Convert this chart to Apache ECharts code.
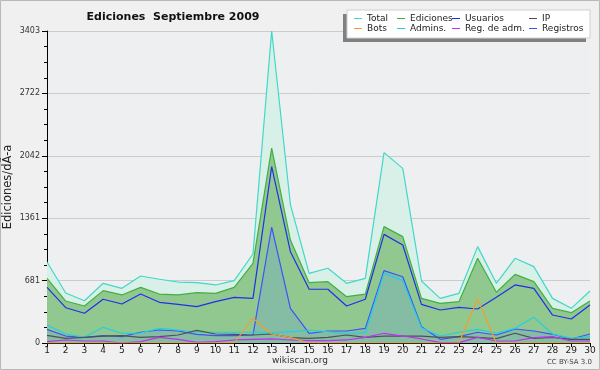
<!DOCTYPE html>
<html><head><meta charset="utf-8">
<script src="https://cdn.jsdelivr.net/npm/echarts@6/dist/echarts.min.js"></script>
<style>html,body{margin:0;padding:0;background:#f0f0f0}#c{width:600px;height:370px}</style>
</head><body><div id="c"></div>
<script>
const days = ['1','2','3','4','5','6','7','8','9','10','11','12','13','14','15','16','17','18','19','20','21','22','23','24','25','26','27','28','29','30'];
const total     = [883,545,461,651,596,731,695,665,658,633,680,971,3403,1510,760,815,651,705,2076,1905,676,487,542,1051,651,924,833,487,378,567];
const ediciones = [705,458,404,571,524,607,534,524,549,542,607,869,2125,1123,658,669,505,534,1269,1160,487,433,451,924,553,749,669,378,331,458];
const usuarios  = [607,385,324,477,425,534,444,422,396,451,498,487,1923,996,586,586,404,477,1185,1069,422,360,389,371,498,633,596,305,262,414];
const ip        = [84,51,62,76,80,62,69,87,138,98,95,87,98,58,51,62,87,62,76,76,76,62,69,62,47,106,51,62,40,40];
const bots      = [0,0,0,0,0,0,0,0,0,0,0,270,98,58,0,0,0,0,0,0,0,0,0,480,0,0,0,0,0,0];
const admins    = [196,98,62,171,106,109,160,142,117,117,117,117,110,123,142,123,98,112,760,680,165,76,117,149,106,160,280,98,51,69];
const regAdm    = [15,33,22,22,0,15,62,40,7,15,33,40,44,33,25,25,33,62,106,76,44,4,4,62,22,22,58,69,22,22];
const registros = [149,76,62,80,69,117,142,131,95,80,80,87,1265,378,105,131,131,160,789,723,178,40,69,117,87,153,131,95,44,98];
const yTicks = [0,681,1361,2042,2722,3403];

const chart = echarts.init(document.getElementById('c'));
const yMax = 3403, yInt = yMax/5;
const lineS = (name, data, color, z, area) => ({
  name, type:'line', data, symbol:'none', z,
  lineStyle:{color, width:1.2}, itemStyle:{color},
  areaStyle: area ? {color: area, opacity:1} : undefined,
  animation:false
});
const legendBase = (left, data) => ({
  orient:'vertical', left, top:14, itemGap:1, itemWidth:8, itemHeight:9, padding:0,
  icon:'path://M0,4L8,4L8,5L0,5Z',
  textStyle:{fontFamily:'DejaVu Sans', fontSize:9, color:'#222', padding:[0,0,0,0]},
  data, selectedMode:false, z:20
});
chart.setOption({
  backgroundColor:'#f0f0f0',
  animation:false,
  title:{text:'Ediciones  Septiembre 2009', left:168, top:7, textAlign:'center',
    textStyle:{fontFamily:'DejaVu Sans', fontSize:11, fontWeight:'bold', color:'#111'}},
  graphic:[
    {type:'rect', shape:{x:0.5,y:0.5,width:599,height:369}, style:{fill:'none', stroke:'#b8b8b8', lineWidth:1}, z:-10},
    {type:'rect', shape:{x:343,y:14,width:243,height:28}, style:{fill:'#808080'}, z:10},
    {type:'rect', shape:{x:347,y:10,width:243,height:28}, style:{fill:'#ffffff', stroke:'#d0d0d0', lineWidth:1}, z:11},
    {type:'text', left:'center', top:356, style:{text:'wikiscan.org', font:'9px DejaVu Sans', fill:'#333'}},
    {type:'text', right:8, top:359, style:{text:'CC BY-SA 3.0', font:'7px DejaVu Sans', fill:'#444'}}
  ],
  legend:[
    legendBase(354, ['Total','Bots']),
    legendBase(397, ['Ediciones','Admins.']),
    legendBase(452, ['Usuarios','Reg. de adm.']),
    legendBase(529, ['IP','Registros'])
  ],
  grid:{left:47, right:10, top:31, bottom:27, show:true, backgroundColor:'#eeeff1', borderWidth:0,
    containLabel:false, outerBoundsMode:'none'},
  xAxis:{type:'category', data:days, boundaryGap:false,
    axisLine:{lineStyle:{color:'#000', width:1}},
    axisTick:{show:true, length:4, lineStyle:{color:'#000'}},
    axisLabel:{fontFamily:'DejaVu Sans', fontSize:9, color:'#222', margin:3, interval:0},
    splitLine:{show:false}},
  yAxis:{type:'value', min:0, max:yMax, interval:yInt,
    name:'Ediciones/dÃ-a', nameLocation:'middle', nameGap:33, nameRotate:90, nameMoveOverlap:false,
    nameTextStyle:{fontFamily:'DejaVu Sans', fontSize:11.5, color:'#222'},
    axisLine:{show:true, lineStyle:{color:'#000', width:1}},
    axisTick:{show:true, length:5, lineStyle:{color:'#000'}},
    minorTick:{show:true, splitNumber:4, length:3, lineStyle:{color:'#000'}},
    axisLabel:{fontFamily:'DejaVu Sans', fontSize:8, color:'#333', margin:7,
      formatter: v => { const i = Math.round(v/yInt); return String(yTicks[i]); }},
    splitLine:{show:true, lineStyle:{color:'#cccccc', width:1}}},
  series:[
    lineS('Total', total, '#40d8c8', 1, '#d8f0e8'),
    lineS('Ediciones', ediciones, '#40b040', 2, '#90c890'),
    lineS('Registros', registros, '#4050ff', 3, '#84bca4'),
    lineS('Usuarios', usuarios, '#2030e8', 4),
    lineS('Admins.', admins, '#20d0e0', 4),
    lineS('IP', ip, '#505050', 4),
    lineS('Reg. de adm.', regAdm, '#c030f0', 4),
    lineS('Bots', bots, '#f0a030', 4)
  ]
});
</script></body></html>
